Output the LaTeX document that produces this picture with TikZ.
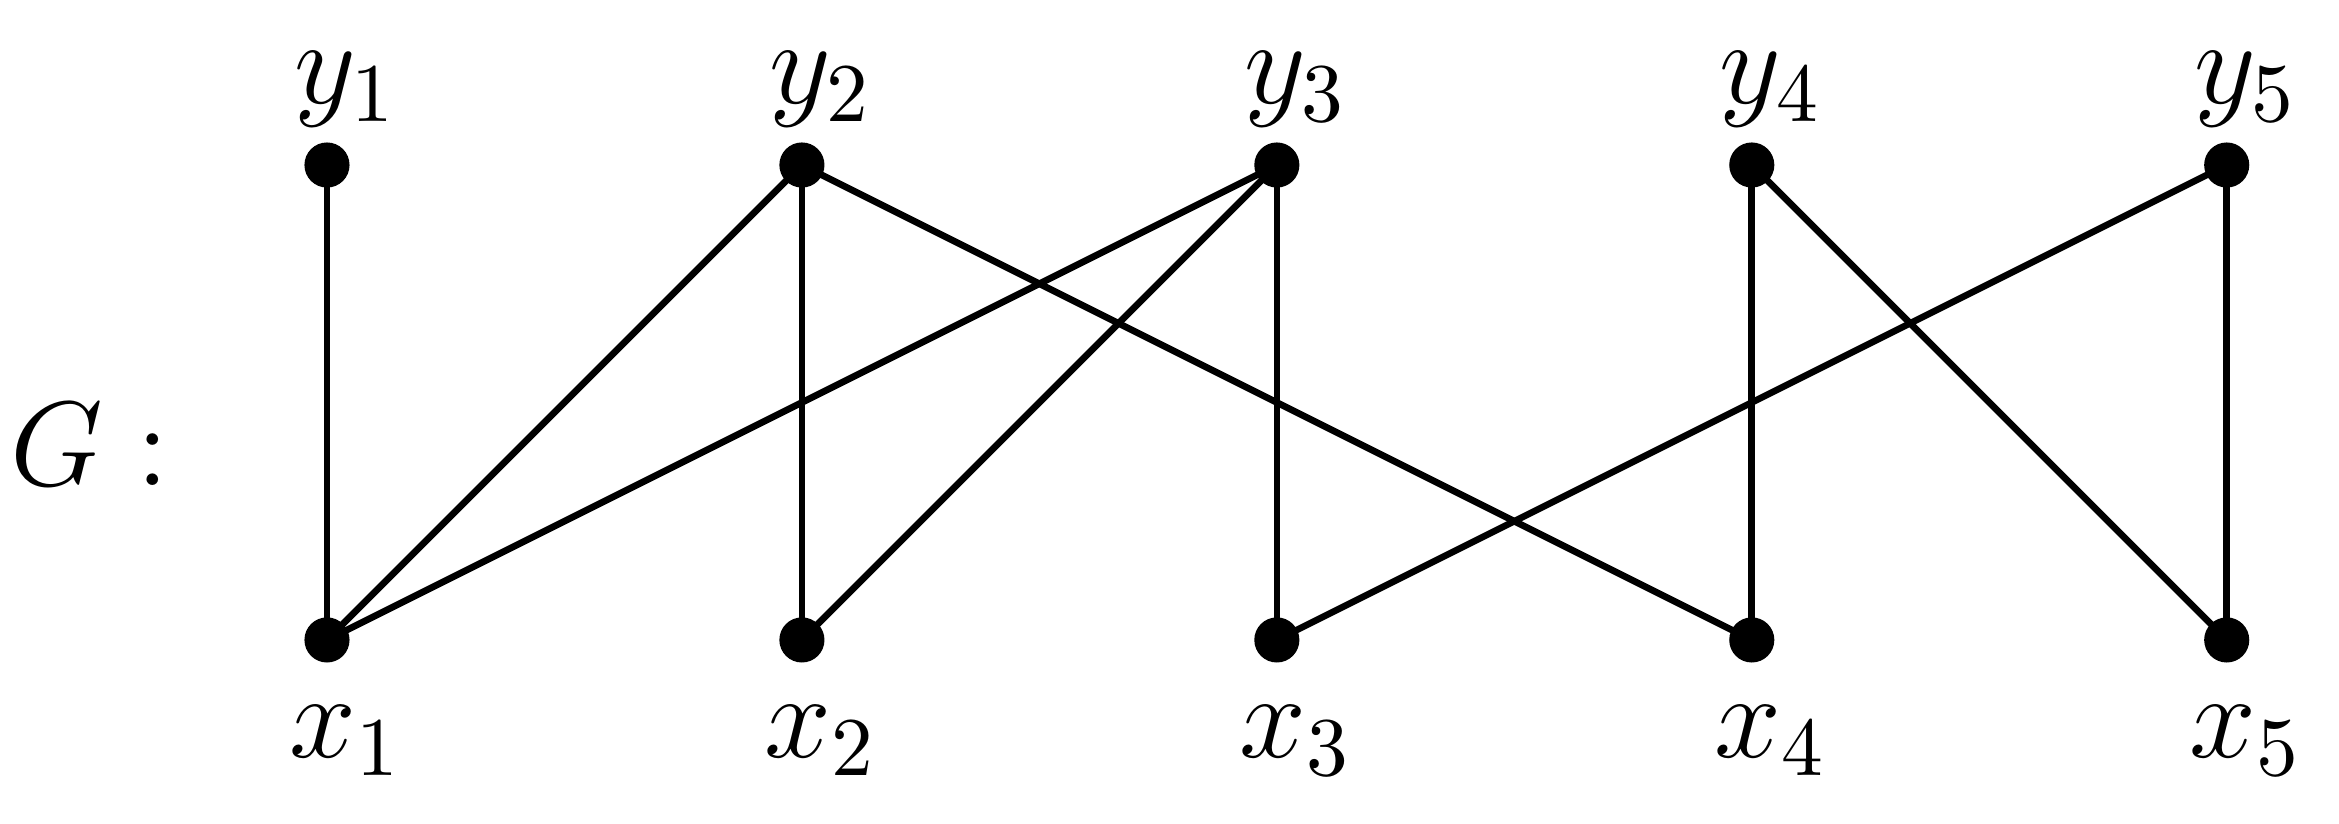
\documentclass[tikz,border=0pt]{standalone}
\usetikzlibrary{positioning}
\tikzset{
  vtx/.style={circle, fill=black, inner sep=0pt, minimum size=0.19cm},
  lbl/.style={font=\Large, inner sep=1pt}
}
\begin{document}
\begin{tikzpicture}[thick]
        \useasboundingbox (0,0) rectangle (9.85,3.47);
        \foreach \i in {1,...,5} {
            \coordinate (y\i) at ({1.377+2*(\i-1)}, 2.775);
            \coordinate (x\i) at ({1.377+2*(\i-1)}, 0.775);
        }
        \foreach \a/\b in {1/1, 2/1, 2/2, 2/4, 3/1, 3/2, 3/3, 4/4, 4/5, 5/3, 5/5}
            \draw (y\a) -- (x\b);

        \foreach \i in {1,...,5} {
            \node[lbl, anchor=base, xshift=0.08cm] at ([yshift=0.26cm]y\i) (ly\i) {$y_{\i}$};
            \node[vtx] at (y\i) (dy\i) {};
            \node[vtx] at (x\i) (dx\i) {};
            \node[lbl, below=0.12cm of dx\i, xshift=0.08cm] (lx\i) {$x_{\i}$};
        }
        \node[lbl] at (0.38,1.6) (G) {$G:$};
    \end{tikzpicture}
\end{document}
